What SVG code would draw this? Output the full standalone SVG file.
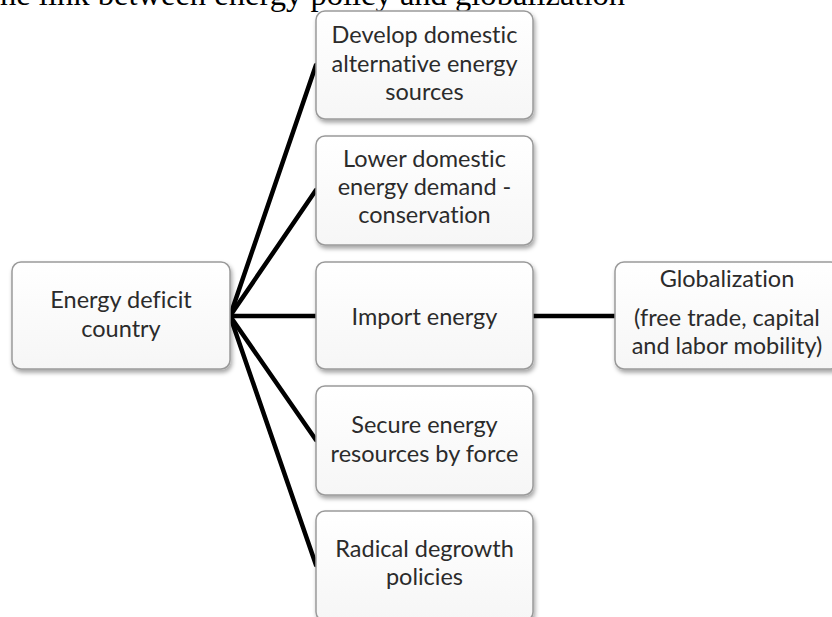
<svg xmlns="http://www.w3.org/2000/svg" width="832" height="617" viewBox="0 0 832 617">
<defs>
<linearGradient id="fill" x1="0" y1="0" x2="0" y2="1">
<stop offset="0" stop-color="#ffffff"/>
<stop offset="1" stop-color="#f6f6f6"/>
</linearGradient>
<filter id="sh" x="-10%" y="-10%" width="130%" height="130%">
<feDropShadow dx="1.5" dy="3" stdDeviation="2" flood-color="#000" flood-opacity="0.35"/>
</filter>
</defs>
<style>
.box{fill:url(#fill);stroke:#9a9a9a;stroke-width:1.5;filter:url(#sh)}
.t{font-family:Lato,"Open Sans","Liberation Sans",sans-serif;font-size:23.5px;font-weight:400;fill:#2b2b2b;text-anchor:middle;font-variant-ligatures:none}
.c{stroke:#000;stroke-width:4.5;fill:none;stroke-linecap:round}
.title{font-family:"Liberation Serif","Times New Roman",serif;font-size:32px;fill:#000}
</style>
<rect width="832" height="617" fill="#fff"/>
<text class="title" x="0" y="5" textLength="625" lengthAdjust="spacingAndGlyphs">he link between energy policy and globalization</text>
<g id="connectors">
<line class="c" x1="230" y1="316" x2="316" y2="65"/>
<line class="c" x1="230" y1="316" x2="316" y2="190"/>
<line class="c" x1="230" y1="316" x2="316" y2="316"/>
<line class="c" x1="230" y1="316" x2="316" y2="440"/>
<line class="c" x1="230" y1="316" x2="316" y2="565"/>
<line class="c" x1="533" y1="316" x2="615" y2="316"/>
</g>
<g id="deficit">
<rect class="box" x="12" y="262" width="218" height="107" rx="9"/>
<text class="t" x="121" y="308">Energy deficit</text>
<text class="t" x="121" y="337">country</text>
</g>
<g id="develop">
<rect class="box" x="316" y="11" width="217" height="108" rx="9"/>
<text class="t" x="424.5" y="43">Develop domestic</text>
<text class="t" x="424.5" y="72">alternative energy</text>
<text class="t" x="424.5" y="100">sources</text>
</g>
<g id="lower">
<rect class="box" x="316" y="136" width="217" height="109" rx="9"/>
<text class="t" x="424.5" y="167">Lower domestic</text>
<text class="t" x="424.5" y="195">energy demand -</text>
<text class="t" x="424.5" y="223">conservation</text>
</g>
<g id="import">
<rect class="box" x="316" y="262" width="217" height="107" rx="9"/>
<text class="t" x="424.5" y="325">Import energy</text>
</g>
<g id="secure">
<rect class="box" x="316" y="386" width="217" height="109" rx="9"/>
<text class="t" x="424.5" y="433">Secure energy</text>
<text class="t" x="424.5" y="462">resources by force</text>
</g>
<g id="degrowth">
<rect class="box" x="316" y="511" width="217" height="110" rx="9"/>
<text class="t" x="424.5" y="557">Radical degrowth</text>
<text class="t" x="424.5" y="585">policies</text>
</g>
<g id="globalization">
<rect class="box" x="615" y="262" width="225" height="107" rx="9"/>
<text class="t" x="727" y="287">Globalization</text>
<text class="t" x="727" y="326">(free trade, capital</text>
<text class="t" x="727" y="354">and labor mobility)</text>
</g>
</svg>
